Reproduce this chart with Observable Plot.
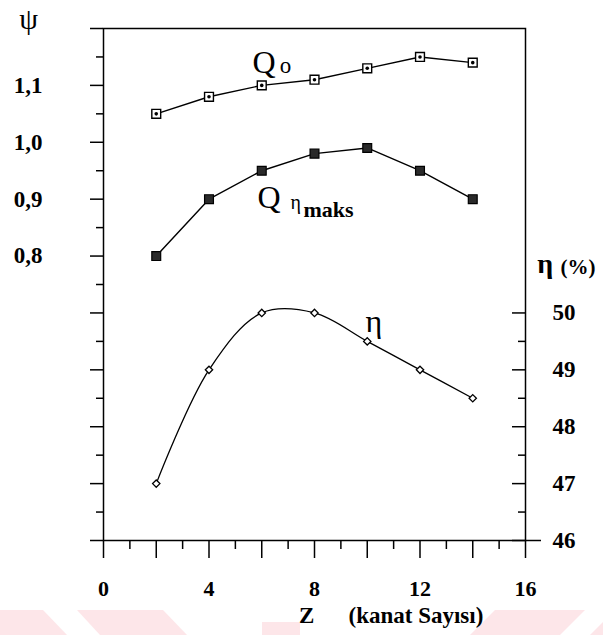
<!DOCTYPE html>
<html>
<head>
<meta charset="utf-8">
<script src="https://cdn.jsdelivr.net/npm/d3@7"></script>
<script src="https://cdn.jsdelivr.net/npm/@observablehq/plot@0.6"></script>
<style>
  html, body { margin: 0; padding: 0; background: #fff; }
  #chart { width: 603px; height: 635px; }
</style>
</head>
<body>
<div id="chart"></div>
<script>
// ---- data ----
const z = [2, 4, 6, 8, 10, 12, 14];                       // Z (kanat Sayısı)
const psiQo = [1.05, 1.08, 1.10, 1.11, 1.13, 1.15, 1.14];   // Q_o  (ψ)
const psiQetaMaks = [0.80, 0.90, 0.95, 0.98, 0.99, 0.95, 0.90]; // Q_ηmaks (ψ)
const etaPercent = [47.0, 49.0, 50.0, 50.0, 49.5, 49.0, 48.5];  // η (%)

// ---- ticks ----
const psiMajor = [0.3, 0.4, 0.5, 0.6, 0.7, 0.8, 0.9, 1.0, 1.1, 1.2];
const psiMinor = [0.35, 0.45, 0.55, 0.65, 0.75, 0.85, 0.95, 1.05, 1.15];
const psiTickLabels = [0.8, 0.9, 1.0, 1.1];
const etaMajor = [46, 47, 48, 49, 50];
const etaMinor = [46.5, 47.5, 48.5, 49.5];
const zMajor = [0, 2, 4, 6, 8, 10, 12, 14, 16];
const zMinor = [1, 3, 5, 7, 9, 11, 13, 15];
const zTickLabels = [0, 4, 8, 12, 16];

// η axis (right) shares the plot's vertical scale: 46 % ↔ ψ 0.3, +1 % ↔ +0.1 ψ
const etaToPsi = e => 0.3 + (e - 46) * 0.1;
const psiToEta = p => 46 + (p - 0.3) * 10;

const qo = z.map((v, i) => ({z: v, psi: psiQo[i]}));
const qm = z.map((v, i) => ({z: v, psi: psiQetaMaks[i]}));
const eta = z.map((v, i) => ({z: v, eta: etaPercent[i]}));

const serif = "Liberation Serif, Times New Roman, Times, serif";
const SW = 1.5;
const T = (s, o) => Plot.text([s], {fontFamily: serif, textAnchor: "start", lineAnchor: "bottom", ...o});

const plot = Plot.plot({
  width: 603,
  height: 635,
  marginTop: 28,
  marginBottom: 95,
  marginLeft: 103,
  marginRight: 78,
  x: {domain: [0, 16], label: null},
  y: {domain: [0.3, 1.2], label: null},
  style: {fontFamily: serif, background: "transparent", color: "black"},
  marks: [
    Plot.frame({strokeWidth: SW}),
    // left ψ axis (outward ticks)
    Plot.axisY(psiMajor, {anchor: "left", tickSize: 13, strokeWidth: SW, fill: "none", label: null}),
    Plot.axisY(psiMinor, {anchor: "left", tickSize: 7, strokeWidth: SW, fill: "none", label: null}),
    Plot.axisY(psiTickLabels, {anchor: "left", tickSize: 0, tickPadding: 61, label: null,
      tickFormat: d => d.toFixed(1).replace(".", ","), fontSize: 23, fontWeight: "bold", fontFamily: serif}),
    // right η axis (inward ticks)
    Plot.axisY(etaMajor.map(etaToPsi), {anchor: "left", frameAnchor: "right", tickSize: 13, strokeWidth: SW, fill: "none", label: null}),
    Plot.axisY(etaMinor.map(etaToPsi), {anchor: "left", frameAnchor: "right", tickSize: 7, strokeWidth: SW, fill: "none", label: null}),
    Plot.axisY([etaToPsi(46)], {anchor: "right", tickSize: 15, strokeWidth: SW, fill: "none", label: null}),
    Plot.axisY(etaMajor.map(etaToPsi), {anchor: "right", tickSize: 0, tickPadding: 27, label: null,
      tickFormat: d => String(Math.round(psiToEta(d))), fontSize: 23, fontWeight: "bold", fontFamily: serif}),
    // bottom Z axis
    Plot.axisX(zMajor, {anchor: "bottom", tickSize: 18, strokeWidth: SW, fill: "none", label: null}),
    Plot.axisX(zMinor, {anchor: "bottom", tickSize: 9, strokeWidth: SW, fill: "none", label: null}),
    Plot.axisX(zTickLabels, {anchor: "bottom", tickSize: 0, tickPadding: 40, label: null,
      fontSize: 22, fontWeight: "bold", fontFamily: serif}),

    // Q_o
    Plot.line(qo, {x: "z", y: "psi", stroke: "black", strokeWidth: 1.4}),
    Plot.dot(qo, {x: "z", y: "psi", symbol: "square", r: 5, fill: "white", stroke: "black", strokeWidth: 1.4}),
    Plot.dot(qo, {x: "z", y: "psi", r: 1.8, fill: "black"}),
    // Q_ηmaks
    Plot.line(qm, {x: "z", y: "psi", stroke: "black", strokeWidth: 1.4}),
    Plot.dot(qm, {x: "z", y: "psi", symbol: "square", r: 5, fill: "#2a2a2a", stroke: "black", strokeWidth: 1.2}),
    // η
    Plot.line(eta, {x: "z", y: d => etaToPsi(d.eta), stroke: "black", strokeWidth: 1.3, curve: "catmull-rom"}),
    Plot.dot(eta, {x: "z", y: d => etaToPsi(d.eta), symbol: "diamond2", r: 3.3, fill: "white", stroke: "black", strokeWidth: 1.3}),

    // annotations
    T("ψ", {x: -2.84, y: 1.2, fontSize: 30, textAnchor: "middle"}),
    T("Q", {x: 5.65, y: 1.121, fontSize: 32}),
    T("o", {x: 6.68, y: 1.121, fontSize: 23}),
    T("Q", {x: 5.84, y: 0.885, fontSize: 32}),
    T("η", {x: 7.09, y: 0.882, fontSize: 20}),
    T("maks", {x: 7.58, y: 0.868, fontSize: 22, fontWeight: "bold"}),
    T("η", {x: 9.93, y: 0.666, fontSize: 32}),
    T("η", {x: 16.45, y: 0.771, fontSize: 28, fontWeight: "bold"}),
    T("(%)", {x: 17.33, y: 0.768, fontSize: 21, fontWeight: "bold"}),
    T("Z", {x: 7.70, y: 0.155, fontSize: 23, fontWeight: "bold", textAnchor: "middle"}),
    T("(kanat Sayısı)", {x: 9.29, y: 0.155, fontSize: 23, fontWeight: "bold"})
  ]
});

// faint pink watermark band at the bottom of the page (decoration behind the chart)
const wm = d3.select(plot).insert("g", ":first-child").attr("fill", "#fde6e9");
[
  "0,610 43,610 67,635 0,635",
  "77,610 163,610 187,635 100,635",
  "262,622 300,622 300,635 262,635",
  "470,635 495,610 585,610 560,635",
  "590,635 603,622 603,635"
].forEach(p => wm.append("polygon").attr("points", p));

document.getElementById("chart").appendChild(plot);
</script>
</body>
</html>
